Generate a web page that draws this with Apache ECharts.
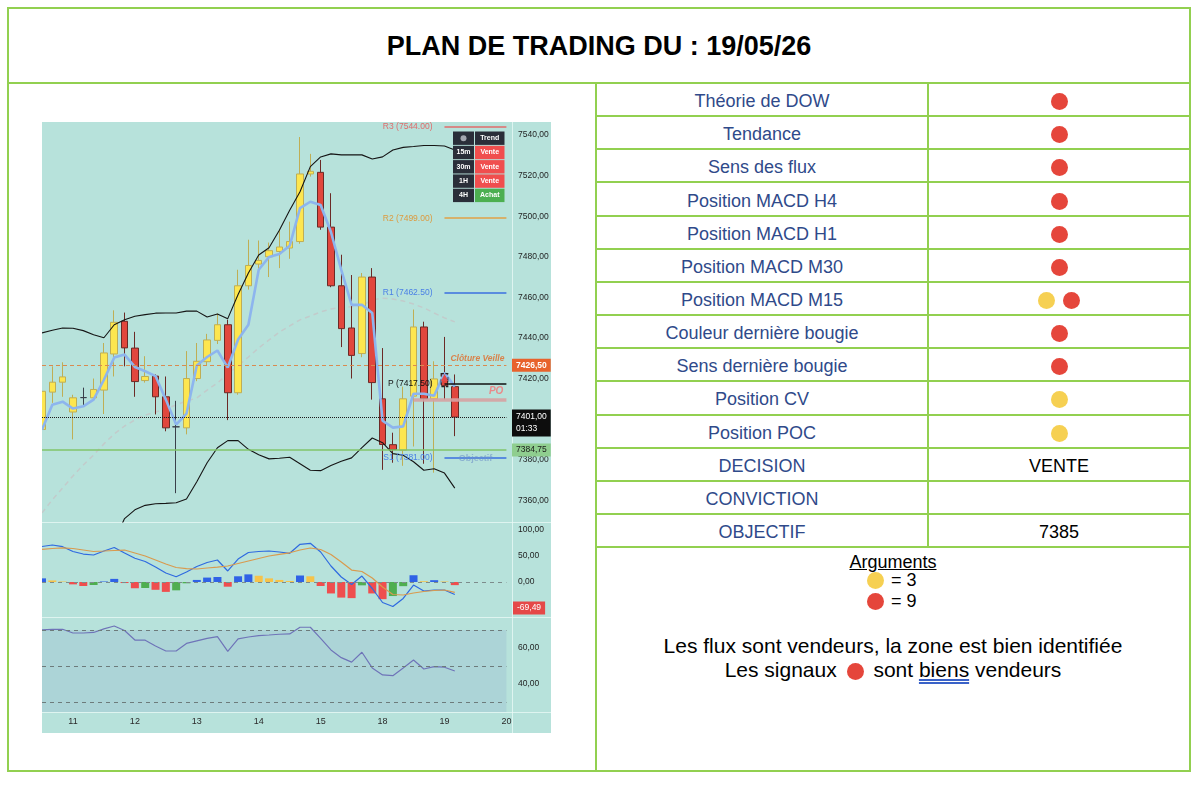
<!DOCTYPE html>
<html>
<head>
<meta charset="utf-8">
<title>Plan de trading du 19/05/26</title>
<script src="https://cdn.jsdelivr.net/npm/echarts@6.0.0/dist/echarts.min.js"></script>
<style>
html, body { margin:0; padding:0; background:#ffffff; }
#page { position:relative; width:1200px; height:788px; overflow:hidden; font-family:'Liberation Sans', Arial, Helvetica, sans-serif; }
.ln { position:absolute; background:#92d050; }
.cell { position:absolute; display:flex; align-items:center; justify-content:center; font-size:18px; white-space:nowrap; box-sizing:border-box; padding-top:4px; }
.lbl { color:#2f4a8a; }
.val { color:#000; }
.dot { display:inline-block; width:17px; height:17px; border-radius:50%; margin:0 4px; vertical-align:middle; }
#title { position:absolute; left:8px; top:9px; width:1182px; height:75px; display:flex; align-items:center; justify-content:center; font-weight:bold; font-size:27px; color:#000; }
#chart { position:absolute; left:42px; top:122px; width:509px; height:611px; background:#b7e2db; }
.txt { position:absolute; color:#000; white-space:nowrap; }
</style>
</head>
<body>
<div id="page">
  <div id="title">PLAN DE TRADING DU : 19/05/26</div>
  <div id="chart"></div>
</div>
<script>
// ---------------- DATA ----------------
// 4H slots (day + hour) on the x axis
const sessionDays = ['11','12','13','14','15','18','19'];
const sessionHours = ['00h','04h','08h','12h','16h','20h'];
const xCategories = ['10 12h','10 16h','10 20h'];
sessionDays.forEach(d => sessionHours.forEach(h => xCategories.push(d + ' ' + h)));
xCategories.push('20 00h');

// [open, close, low, high]
const candles = [
  [7394.9,7413.7,7392,7416],[7413.3,7418.2,7408,7426],[7418.2,7420.8,7411,7428],
  [7403.5,7410.5,7390,7412],[7410.6,7410.6,7406.3,7415.5],[7410.5,7414.6,7409.5,7420],
  [7414.3,7432.6,7402.5,7437.5],[7432.1,7447.7,7421,7453.6],[7448.2,7435.1,7426,7452.5],
  [7435,7418.5,7411,7443],[7419,7421,7418,7431],[7421.2,7411,7402.3,7422],
  [7411,7395.7,7394,7421],[7396.2,7396.2,7363.5,7409],[7395.7,7420,7392.5,7433.5],
  [7420,7428.5,7418.7,7437.5],[7428.3,7439,7426.5,7442],[7438.8,7446.5,7437,7452],
  [7446.5,7413,7399.5,7449],[7413,7465.7,7412,7473.6],[7465.7,7475.7,7463.8,7488.4],
  [7476.4,7478.2,7471,7488],[7480,7483,7470,7487],[7482.6,7484.8,7474.4,7493.3],
  [7484.3,7487.5,7479,7497.3],[7487.5,7520.8,7486.4,7539],[7520.8,7522.1,7519.5,7530.7],
  [7521.6,7494.6,7493.3,7527.7],[7494.6,7465.7,7465,7511.3],[7465.7,7444.6,7435.5,7481],
  [7444.9,7431.4,7420,7471],[7432.3,7470,7430.5,7472],[7470,7418,7409.6,7474.4],
  [7410,7387.5,7375,7435],[7387.4,7385,7378.5,7393.3],[7384.7,7410,7377,7416],
  [7411.3,7445.4,7386.5,7454],[7445.4,7410,7378,7448],[7410,7419.8,7373.6,7428.5],
  [7422.5,7416.5,7409.6,7440.5],[7416,7401,7391.6,7422]
];
const bollUpper = [7442.5,7443.8,7444.9,7444.8,7443.6,7441.6,7440.1,7446.5,7449,7450.7,7451.5,7452.2,7452.3,7452.3,7453.2,7453.2,7450.3,7451.8,7449.5,7461.4,7472,7480.9,7484.4,7493.1,7502.9,7512,7524.4,7529.2,7530.7,7530.2,7530.2,7530.2,7528.2,7529.2,7532.6,7533.9,7534.3,7534.8,7534.8,7534.6,7532.6];
const bollMid = [7353.8,7360.2,7366.1,7372,7377.4,7382.3,7387.8,7392.7,7396.6,7399.6,7402,7403.5,7405,7407,7408.9,7410.4,7414.3,7417.8,7422.2,7426.2,7430.6,7435.1,7439,7442.9,7445.9,7448.9,7450.8,7452.8,7454.3,7455,7455.4,7455.8,7458.7,7459.6,7459.2,7458.2,7456.7,7454.8,7452.3,7449.9,7447.9];
const bollLower = [null,null,null,null,null,null,null,7340,7351,7355.3,7357.5,7358.3,7358.5,7358.8,7360.6,7369.1,7378.5,7385.9,7389.4,7389.4,7385.1,7382.4,7380.4,7380.7,7381.2,7378,7374.8,7374.6,7377.1,7379.2,7380.9,7385.9,7390.7,7388.4,7383,7382.2,7379,7374.8,7375.5,7373.4,7366];
const maLine = [7394.8,7407.1,7408.6,7405.2,7406.3,7409.6,7419.4,7430.3,7431.8,7425.7,7423.6,7421.2,7409.6,7397.3,7402.7,7426.4,7430.6,7433.8,7425.4,7439.2,7446.5,7473.6,7479.9,7481.4,7485.4,7504,7507.1,7505.5,7492.2,7473.5,7456.3,7456.3,7452.3,7399.2,7395.8,7396.4,7412.5,7412.5,7411.5,7422.8,7416];

const macdHist = [7,3,1,-4.5,-7.7,-5.8,1,6,-2,-12,-11.5,-15,-19,-16,-2.5,4,8.5,9.6,-9,11,14.7,12,7,4,2,12.5,11,-7.7,-22,-30,-31,-6.4,-22,-33,-27,-8,13,1.5,3.5,1,-6];
const macdLine = [68.3,71.2,67.9,58.7,53.8,51.9,59.6,66.3,55.8,45.6,39.4,28.8,17.3,10.2,19.2,29.8,37.5,42.3,21.2,44.2,56.7,58.7,59.6,57.7,55.2,72.5,74.4,57.7,30.8,9.6,-4.8,11.5,-12.5,-39.4,-47.1,-31.7,-5.8,-17.3,-15.4,-15.4,-24];
const macdSignal = [62.9,64.4,65.8,64.4,61.5,58.7,59.6,60.6,61.5,55.8,50,42.3,34.6,27.9,25.6,25,26.9,28.8,30.8,35.6,40.4,45.2,50,53.3,56.2,61.5,65.4,62.5,52.9,38.5,23,20.2,7.7,-9.6,-24,-25,-21.2,-18.3,-16.3,-15.4,-19.8];
const macdLastTag = '-69,49';
const rsiLine = [70,70.3,70.4,68.3,68.3,68.6,70.6,72.2,69.7,64.4,64.3,61.1,58.3,58.3,62.5,63.9,65.3,66.3,58.1,65,66.1,66.9,67.2,67.6,67.8,71.5,71.5,65.3,58.9,54.6,52.1,57.6,48.9,45,44.6,48.9,53.3,48.3,49.6,49.3,47.2];
const rsiLevels = [70, 50, 30];

const pivotNames = ['R3','R2','R1','P','S1'];
const pivotValues = [7544, 7499, 7462.5, 7417.5, 7381];
const closeVeille = 7426.5;
const lastPrice = 7401;
const countdown = '01:33';
const objectifLevel = 7384.75;
const pocLevel = 7409.7;
const pivotStartSlot = 39, lastSlot = 45, pocStartSlot = 36, markerSlot = 39;

const trendTF = ['15m','30m','1H','4H'];
const trendSignal = ['Vente','Vente','Vente','Achat'];

const criteria = ['Théorie de DOW','Tendance','Sens des flux','Position MACD H4','Position MACD H1','Position MACD M30','Position MACD M15','Couleur dernière bougie','Sens dernière bougie','Position CV','Position POC'];
const criteriaSignals = [['red'],['red'],['red'],['red'],['red'],['red'],['yellow','red'],['red'],['red'],['yellow'],['yellow']];
const decisionRows = [['DECISION','VENTE'],['CONVICTION',''],['OBJECTIF','7385']];
const argumentCounts = [['yellow',3],['red',9]];
const comment1 = 'Les flux sont vendeurs, la zone est bien identifiée';
const comment2 = ['Les signaux', 'red', 'sont', 'biens', 'vendeurs'];

// ---------------- PAGE LAYOUT ----------------
const page = document.getElementById('page');
const dotColors = { red:'#e5463b', yellow:'#f6d052' };
function ln(x, y, w, h) {
  const d = document.createElement('div'); d.className = 'ln';
  d.style.left = x + 'px'; d.style.top = y + 'px'; d.style.width = w + 'px'; d.style.height = h + 'px';
  page.appendChild(d);
}
function el(cls, x, y, w, h, html, extra) {
  const d = document.createElement('div'); d.className = cls;
  d.style.left = x + 'px'; d.style.top = y + 'px';
  if (w != null) d.style.width = w + 'px';
  if (h != null) d.style.height = h + 'px';
  if (extra) d.style.cssText += extra;
  d.innerHTML = html; page.appendChild(d); return d;
}
function dot(c) { return '<span class="dot" style="background:' + dotColors[c] + '"></span>'; }

ln(7, 7, 1184, 2); ln(7, 82, 1184, 2); ln(7, 770, 1184, 2);
ln(7, 7, 2, 765); ln(1189, 7, 2, 765); ln(595, 82, 2, 690);

const rowTop = 83, rowH = 33.15;
const allRows = criteria.map((c, i) => [c, criteriaSignals[i].map(dot).join('')]).concat(decisionRows);
allRows.forEach((r, i) => {
  const y = rowTop + i * rowH;
  el('cell lbl', 596, y, 332, rowH, r[0]);
  el('cell val', 928, y, 262, rowH, r[1]);
  ln(595, y + rowH - 1, 596, 2);
});
ln(927, 82, 2, allRows.length * rowH + 1);

el('txt', 596, 552, 594, 20, '<span style="text-decoration:underline">Arguments</span>', 'text-align:center;font-size:18px;line-height:20px;');
argumentCounts.forEach((a, i) => {
  el('txt', 867, 570 + i * 21, 80, 20, dot(a[0]) + '<span style="margin-left:3px">= ' + a[1] + '</span>', 'font-size:18px;line-height:20px;display:flex;align-items:center;margin-left:-4px;');
});
el('txt', 596, 634, 594, 24, comment1, 'text-align:center;font-size:21px;line-height:24px;');
el('txt', 596, 658, 594, 24,
  comment2[0] + ' ' + dot(comment2[1]) + ' ' + comment2[2] + ' <span style="text-decoration:underline double #3a62c8">' + comment2[3] + '</span> ' + comment2[4],
  'text-align:center;font-size:21px;line-height:24px;');

// ---------------- CHART ----------------
const fmt2 = v => v.toFixed(2).replace('.', ',');
const isMult = (v, m) => Math.abs(v / m - Math.round(v / m)) < 1e-6;
const PLOT_W = 464.4;
const chart = echarts.init(document.getElementById('chart'), null, { width: 509, height: 611 });

const gridDef = (top, height) => ({ left: 0, top: top, width: PLOT_W, height: height, containLabel: false, outerBoundsMode: 'none', show: false });
const xAx = (gi, withLabels) => ({
  type: 'category', gridIndex: gi, data: xCategories, boundaryGap: false,
  axisLine: { show: false }, axisTick: { show: false }, splitLine: { show: false },
  axisLabel: withLabels ? {
    show: true, interval: 0, margin: 4, fontSize: 9, color: '#2a2a2a',
    formatter: v => v.endsWith('00h') ? v.split(' ')[0] : ''
  } : { show: false }
});
const yAx = (gi, min, max, split, fmt) => ({
  type: 'value', gridIndex: gi, position: 'right', offset: 5.6, min: min, max: max, splitNumber: split,
  axisLine: { show: false }, axisTick: { show: false }, splitLine: { show: false },
  axisLabel: { margin: 6, fontSize: 8.5, color: '#1f1f1f', formatter: fmt }
});

const histColor = (v, i) => {
  const prev = i > 0 ? macdHist[i - 1] : -Infinity;
  if (v >= 0) return v >= prev ? '#2f62e6' : '#f6c34a';
  return v < prev ? '#ef4e4e' : '#4fae50';
};

const pivotColors = ['#e06b6b', '#e0a046', '#3b6fe0', '#111111', '#3b6fe0'];
const pivotLabelColors = ['#e06b6b', '#dc9a3e', '#4a80e6', '#111111', '#4a80e6'];
const invisible = { color: 'rgba(0,0,0,0)', width: 1 };

const markLines = [];
pivotNames.forEach((n, k) => {
  markLines.push([
    { coord: [xCategories[pivotStartSlot], pivotValues[k]],
      lineStyle: { color: pivotColors[k], width: n === 'P' ? 1.5 : 1.6, type: 'solid' },
      label: { show: true, position: 'start', distance: 12, formatter: n + ' (' + pivotValues[k].toFixed(2) + ')', color: pivotLabelColors[k], fontSize: 8.5 } },
    { coord: [xCategories[lastSlot], pivotValues[k]] }
  ]);
});
markLines.push([
  { coord: [xCategories[pivotStartSlot], pivotValues[4]], lineStyle: invisible,
    label: { show: true, position: 'middle', distance: 0, offset: [0, 5], formatter: 'Objectif', color: 'rgba(110,145,200,0.6)', fontSize: 9, fontWeight: 'bold' } },
  { coord: [xCategories[lastSlot], pivotValues[4]] }
]);
markLines.push([
  { coord: [xCategories[pocStartSlot], pocLevel], lineStyle: { color: 'rgba(214,162,162,0.9)', width: 3.5, type: 'solid' },
    label: { show: true, position: 'insideEndTop', distance: 3, formatter: 'PO', color: '#e98a8a', fontStyle: 'italic', fontWeight: 'bold', fontSize: 10 } },
  { coord: [xCategories[lastSlot], pocLevel] }
]);
markLines.push({ yAxis: closeVeille, lineStyle: { color: '#d98a50', type: [4, 3], width: 1 },
  label: { show: true, position: 'end', distance: 5.6, formatter: fmt2(closeVeille), backgroundColor: '#e8622c', color: '#fff', fontWeight: 'bold', fontSize: 8.5, padding: [2, 4, 2, 4] } });
markLines.push({ yAxis: closeVeille, lineStyle: invisible,
  label: { show: true, position: 'insideEndTop', distance: 2, formatter: 'Clôture Veille', color: '#d9824a', fontStyle: 'italic', fontWeight: 'bold', fontSize: 8.5 } });
markLines.push({ yAxis: lastPrice, lineStyle: { color: '#1a1a1a', type: 'dotted', width: 1 },
  label: { show: true, position: 'end', distance: 5.6, formatter: fmt2(lastPrice) + '\n' + countdown, backgroundColor: '#0d0d0d', color: '#fff', fontSize: 8.5, lineHeight: 12, padding: [2, 4, 1, 4], offset: [0, 6] } });
markLines.push({ yAxis: objectifLevel, lineStyle: { color: '#80c46a', width: 1.5, type: 'solid' },
  label: { show: true, position: 'end', distance: 5.6, formatter: fmt2(objectifLevel), backgroundColor: '#8fce8f', color: '#1a1a1a', fontSize: 8.5, padding: [2, 4, 2, 4] } });

const sepColor = 'rgba(235,250,247,0.75)';
const graphics = [
  { type: 'line', shape: { x1: 0, y1: 400.5, x2: 509, y2: 400.5 }, style: { stroke: sepColor, lineWidth: 1 }, silent: true },
  { type: 'line', shape: { x1: 0, y1: 495.5, x2: 509, y2: 495.5 }, style: { stroke: sepColor, lineWidth: 1 }, silent: true },
  { type: 'line', shape: { x1: 0, y1: 590.5, x2: 509, y2: 590.5 }, style: { stroke: sepColor, lineWidth: 1 }, silent: true },
  { type: 'line', shape: { x1: 470.5, y1: 0, x2: 470.5, y2: 611 }, style: { stroke: sepColor, lineWidth: 1 }, silent: true },
  { type: 'text', x: 471, y: 486, silent: true, z: 100,
    style: { text: macdLastTag, fill: '#fff', backgroundColor: '#e54848', padding: [2, 4, 2, 4], font: '8.5px "Liberation Sans", Arial', verticalAlign: 'middle', textVerticalAlign: 'middle' } }
];
// trend widget
const wx1 = 411, wx2 = 433, ww1 = 21, ww2 = 29.5, wy = 9.5, wh = 13.4, wstep = 14.3;
graphics.push({ type: 'rect', shape: { x: wx1, y: wy, width: ww1, height: wh }, style: { fill: '#2a2e39' }, silent: true, z: 100 });
graphics.push({ type: 'circle', shape: { cx: wx1 + ww1 / 2, cy: wy + wh / 2, r: 3 }, style: { fill: '#a3a6af' }, silent: true, z: 101 });
graphics.push({ type: 'rect', shape: { x: wx2, y: wy, width: ww2, height: wh }, style: { fill: '#2a2e39' }, silent: true, z: 100 });
graphics.push({ type: 'text', x: wx2 + ww2 / 2, y: wy + wh / 2, silent: true, z: 101,
  style: { text: 'Trend', fill: '#fff', font: 'bold 7px "Liberation Sans", Arial', align: 'center', verticalAlign: 'middle', textAlign: 'center', textVerticalAlign: 'middle' } });
trendTF.forEach((tf, k) => {
  const y = wy + (k + 1) * wstep;
  graphics.push({ type: 'rect', shape: { x: wx1, y: y, width: ww1, height: wh }, style: { fill: '#2a2e39' }, silent: true, z: 100 });
  graphics.push({ type: 'text', x: wx1 + ww1 / 2, y: y + wh / 2, silent: true, z: 101,
    style: { text: tf, fill: '#fff', font: 'bold 7px "Liberation Sans", Arial', align: 'center', verticalAlign: 'middle', textAlign: 'center', textVerticalAlign: 'middle' } });
  graphics.push({ type: 'rect', shape: { x: wx2, y: y, width: ww2, height: wh }, style: { fill: trendSignal[k] === 'Achat' ? '#4caf50' : '#f04e4e' }, silent: true, z: 100 });
  graphics.push({ type: 'text', x: wx2 + ww2 / 2, y: y + wh / 2, silent: true, z: 101,
    style: { text: trendSignal[k], fill: '#fff', font: 'bold 7px "Liberation Sans", Arial', align: 'center', verticalAlign: 'middle', textAlign: 'center', textVerticalAlign: 'middle' } });
});

const dojiStyle = { color: '#3a3f4a', color0: '#3a3f4a', borderColor: '#3a3f4a', borderColor0: '#3a3f4a' };

const option = {
  animation: false,
  backgroundColor: 'transparent',
  textStyle: { fontFamily: '"Liberation Sans", Arial, sans-serif' },
  grid: [gridDef(0, 400), gridDef(400, 95), gridDef(495, 95), gridDef(590, 1)],
  xAxis: [xAx(0, false), xAx(1, false), xAx(2, false), xAx(3, true)],
  yAxis: [
    yAx(0, 7349.3, 7546.4, 10, v => isMult(v, 20) ? fmt2(v) : ''),
    yAx(1, -67.3, 115.4, 4, v => (v >= 0 && isMult(v, 50)) ? fmt2(v) : ''),
    yAx(2, 24.4, 77.2, 3, v => isMult(v, 20) ? fmt2(v) : ''),
    { type: 'value', gridIndex: 3, show: false, min: 0, max: 1 }
  ],
  graphic: graphics,
  series: [
    {
      type: 'candlestick', name: 'Prix', xAxisIndex: 0, yAxisIndex: 0, z: 2, clip: false, silent: true,
      barWidth: 7,
      data: candles.map(c => c[0] === c[1] ? { value: c, itemStyle: dojiStyle } : c),
      itemStyle: { color: '#fde64f', color0: '#e1473d', borderColor: '#bfae55', borderColor0: '#6b2a26', borderWidth: 1 },
      markLine: { silent: true, symbol: ['none', 'none'], animation: false, precision: 2, data: markLines },
      markPoint: {
        silent: true, animation: false, label: { show: false },
        data: [
          { coord: [xCategories[markerSlot], 7419.2], symbol: 'rect', symbolSize: [7, 13],
            itemStyle: { color: 'rgba(0,0,0,0)', borderColor: '#222', borderWidth: 1, borderType: 'dashed' } },
          { coord: [xCategories[markerSlot], 7420.5], symbol: 'triangle', symbolSize: [7, 7], itemStyle: { color: '#e24a4a' } }
        ]
      }
    },
    { type: 'line', name: 'BB mid', xAxisIndex: 0, yAxisIndex: 0, data: bollMid, symbol: 'none', z: 1, silent: true,
      lineStyle: { color: '#c2cbcb', width: 1.5, type: [5, 4] } },
    { type: 'line', name: 'BB haute', xAxisIndex: 0, yAxisIndex: 0, data: bollUpper, symbol: 'none', z: 3, silent: true,
      lineStyle: { color: '#151515', width: 1.1 } },
    { type: 'line', name: 'BB basse', xAxisIndex: 0, yAxisIndex: 0, data: bollLower, symbol: 'none', z: 3, silent: true,
      lineStyle: { color: '#151515', width: 1.1 } },
    { type: 'line', name: 'MM', xAxisIndex: 0, yAxisIndex: 0, data: maLine, symbol: 'none', z: 3, silent: true,
      lineStyle: { color: '#8db5ee', width: 2.6 } },
    { type: 'bar', name: 'Histogramme', xAxisIndex: 1, yAxisIndex: 1, barWidth: 8, silent: true,
      data: macdHist.map((v, i) => ({ value: v, itemStyle: { color: histColor(v, i) } })),
      markLine: { silent: true, symbol: ['none', 'none'], label: { show: false },
        lineStyle: { color: '#7d8c8c', type: [4, 4], width: 1 }, data: [{ yAxis: 0 }] } },
    { type: 'line', name: 'MACD', xAxisIndex: 1, yAxisIndex: 1, data: macdLine, symbol: 'none', silent: true, z: 3,
      lineStyle: { color: '#2f6ae0', width: 1.2 } },
    { type: 'line', name: 'Signal', xAxisIndex: 1, yAxisIndex: 1, data: macdSignal, symbol: 'none', silent: true, z: 3,
      lineStyle: { color: '#d99a4e', width: 1.2 } },
    { type: 'line', name: 'RSI', xAxisIndex: 2, yAxisIndex: 2, data: rsiLine, symbol: 'none', silent: true, z: 3,
      lineStyle: { color: '#6f74b8', width: 1.2 },
      markArea: { silent: true, itemStyle: { color: 'rgba(120,140,200,0.16)' }, data: [[{ yAxis: rsiLevels[0] }, { yAxis: 24.4 }]] },
      markLine: { silent: true, symbol: ['none', 'none'], label: { show: false },
        lineStyle: { color: '#6d7b7b', type: [4, 4], width: 1 }, data: rsiLevels.map(v => ({ yAxis: v })) } }
  ]
};
chart.setOption(option);
</script>
</body>
</html>
